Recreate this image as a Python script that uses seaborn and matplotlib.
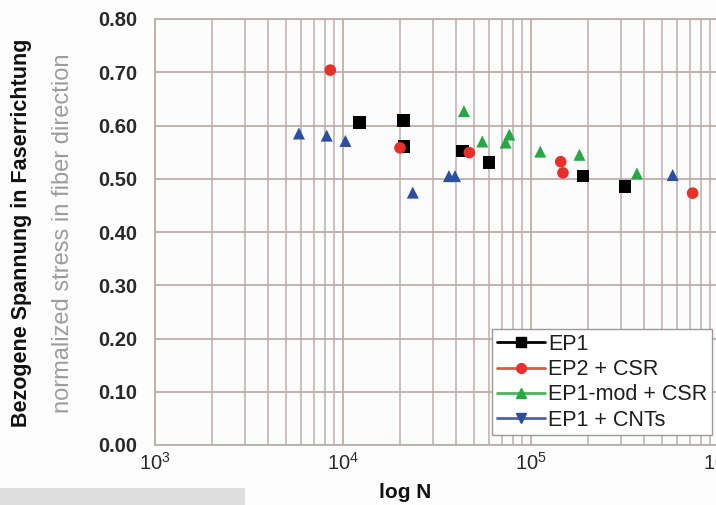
import numpy as np
import pandas as pd
import matplotlib
matplotlib.use("Agg")
import matplotlib.pyplot as plt
import seaborn as sns
from matplotlib.lines import Line2D
from matplotlib.patches import Rectangle
from matplotlib.ticker import LogLocator, FixedLocator, NullFormatter

# values
ep1_n = [12300, 20900, 21100, 43300, 59800, 189000, 316000]
ep1_s = [0.606, 0.609, 0.560, 0.552, 0.531, 0.505, 0.486]

ep2_csr_n = [8560, 20100, 47000, 143900, 147900, 724000]
ep2_csr_s = [0.704, 0.558, 0.549, 0.532, 0.511, 0.473]

ep1mod_csr_n = [44000, 55100, 73300, 76700, 112000, 181000, 366000]
ep1mod_csr_s = [0.627, 0.570, 0.568, 0.583, 0.551, 0.545, 0.510]

ep1_cnt_n = [5830, 8190, 10300, 23500, 36600, 39400, 567000]
ep1_cnt_s = [0.585, 0.581, 0.571, 0.474, 0.505, 0.505, 0.507]

series_names = ["EP1", "EP2 + CSR", "EP1-mod + CSR", "EP1 + CNTs"]
y_ticks = [0.0, 0.1, 0.2, 0.3, 0.4, 0.5, 0.6, 0.7, 0.8]

sns.set_style("white")
plt.rcParams['font.family'] = ['Liberation Sans', 'DejaVu Sans']
plt.rcParams['mathtext.fontset'] = 'custom'
plt.rcParams['mathtext.rm'] = 'Liberation Sans'
plt.rcParams['mathtext.it'] = 'Liberation Sans'

grid_col = "#bcaeab"
marker_col = ["#000000", "#e8302a", "#27a844", "#2d4d9e"]
legend_line_col = ["#000000", "#e0584d", "#4cb35e", "#4e64a6"]
plot_marker = ["s", "o", "^", "^"]
legend_marker = ["s", "o", "^", "v"]
sizes = [85, 70, 75, 75]

df = pd.concat([
    pd.DataFrame({"N": ep1_n, "S": ep1_s, "serie": series_names[0]}),
    pd.DataFrame({"N": ep2_csr_n, "S": ep2_csr_s, "serie": series_names[1]}),
    pd.DataFrame({"N": ep1mod_csr_n, "S": ep1mod_csr_s, "serie": series_names[2]}),
    pd.DataFrame({"N": ep1_cnt_n, "S": ep1_cnt_s, "serie": series_names[3]}),
])

fig = plt.figure(figsize=(7.16, 5.05), dpi=100)
fig.patch.set_facecolor("#fdfdfd")
ax = fig.add_axes([155 / 716, 60 / 505, 564 / 716, 426 / 505])
ax.set_facecolor("#fcfcfc")

for i, name in enumerate(series_names):
    sub = df[df["serie"] == name]
    sns.scatterplot(data=sub, x="N", y="S", ax=ax, marker=plot_marker[i],
                    color=marker_col[i], s=sizes[i], edgecolor="none",
                    legend=False, zorder=3)

ax.set_xscale("log")
ax.set_xlim(1e3, 1e6)
ax.set_ylim(0, 0.8)
ax.xaxis.set_major_locator(LogLocator(base=10))
ax.xaxis.set_minor_locator(LogLocator(base=10, subs=np.arange(2, 10)))
ax.xaxis.set_minor_formatter(NullFormatter())
ax.yaxis.set_major_locator(FixedLocator(y_ticks))
ax.set_yticklabels(["%.2f" % v for v in y_ticks])

ax.grid(True, which="major", axis="both", color=grid_col, lw=1.3)
ax.grid(True, which="minor", axis="x", color=grid_col, lw=1.1)
ax.set_axisbelow(True)
for sp in ax.spines.values():
    sp.set_color(grid_col)
    sp.set_linewidth(1.3)

ax.tick_params(axis="both", which="both", length=0)
ax.tick_params(axis="y", pad=13, labelsize=14.5, labelcolor="#2a2a2a")
ax.tick_params(axis="x", pad=5, labelsize=14.5, labelcolor="#2a2a2a")
for lab in ax.get_yticklabels():
    lab.set_fontweight("bold")
ax.set_xlabel("")
ax.set_ylabel("")

handles = [Line2D([0], [0], color=legend_line_col[i], lw=2, marker=legend_marker[i],
                  markersize=7, markerfacecolor=marker_col[i], markeredgecolor=marker_col[i])
           for i in range(4)]
leg = ax.legend(handles, series_names, loc="lower right", fontsize=15.5,
                handlelength=2.25, handletextpad=0.15, labelspacing=0.2,
                borderpad=0.2, borderaxespad=0, fancybox=False,
                framealpha=1, edgecolor="#9a9a9a", facecolor="white",
                bbox_to_anchor=(712 / 716, 1 - 435 / 505),
                bbox_transform=fig.transFigure)
leg.get_frame().set_linewidth(1.0)
for t in leg.get_texts():
    t.set_color("#1e1e1e")

fig.text(22 / 716, 1 - 232.5 / 505, "Bezogene Spannung in Faserrichtung", rotation=90,
         ha="center", va="center", fontsize=15.5, fontweight="bold", color="#111111")
fig.text(63 / 716, 1 - 233 / 505, "normalized stress in fiber direction", rotation=90,
         ha="center", va="center", fontsize=17, color="#9c9c9c")
fig.text(405 / 716, 1 - 492 / 505, "log N", ha="center", va="center",
         fontsize=15, fontweight="bold", color="#111111")

fig.patches.append(Rectangle((0, 0), 245 / 716, 17 / 505, transform=fig.transFigure,
                             facecolor="#dedede", edgecolor="none", zorder=0))

fig.savefig("out.png", dpi=100, facecolor=fig.get_facecolor())
